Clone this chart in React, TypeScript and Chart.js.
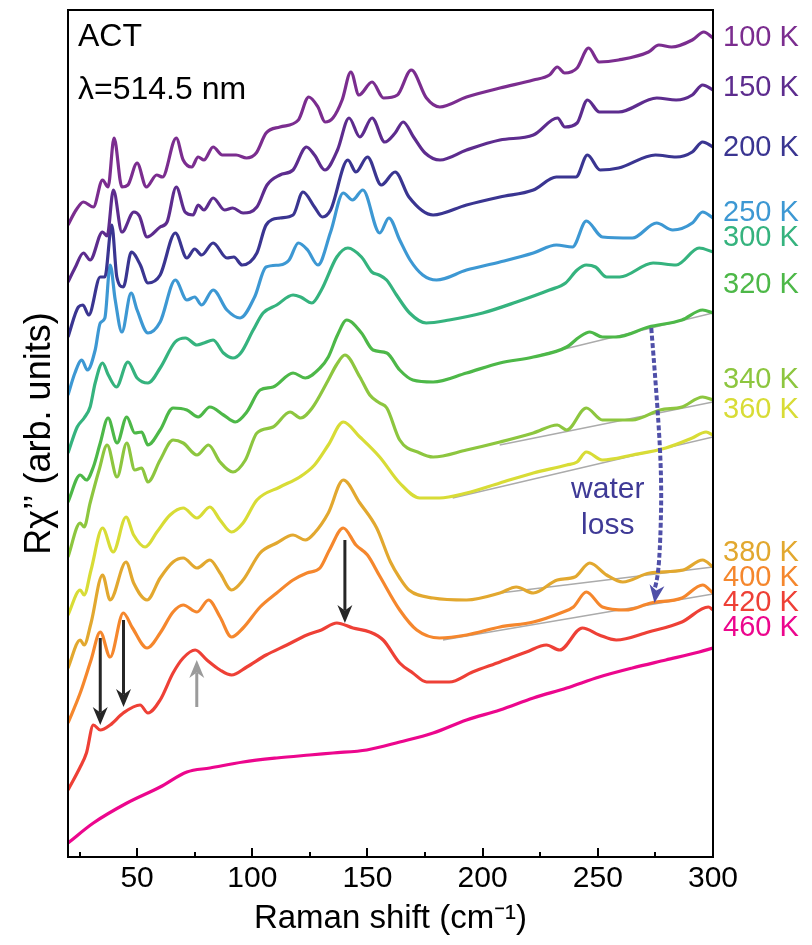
import React, { useEffect, useRef } from "react";
import { Chart, registerables } from "chart.js";

Chart.register(...registerables);

// ---- Data (Raman shift in cm^-1, intensity in arbitrary offset units) ----
const labels = ["100 K", "150 K", "200 K", "250 K", "300 K", "320 K", "340 K", "360 K", "380 K", "400 K", "420 K", "460 K"];
const colors = ["#7B2D8F", "#5D2C8E", "#3A3591", "#3D98D3", "#35B37E", "#4DB848", "#8DC63F", "#D8DC36", "#E2A82F", "#F5872D", "#EE4036", "#EC068D"];
const labelY = [819, 769, 709, 644, 619, 572, 477, 447, 304, 279, 254, 229];

const x100 = [20, 23.5, 26.7, 31, 35, 37.4, 40, 43.4, 46, 50, 54, 58.5, 61, 67, 70, 73.7, 76.5, 79, 83, 87, 93, 97.5, 101.7, 106, 112, 120, 124.5, 128.5, 131.6, 135, 139, 142.8, 146.3, 152, 157, 163, 169, 175.6, 181.4, 193, 207.5, 222, 229, 232.4, 235.6, 241, 246, 250.6, 259, 272, 276.5, 282, 291, 296, 300];
const y100 = [632, 647, 655, 650, 677, 670, 719, 670, 672, 694, 670, 682, 680, 719, 697, 690, 700, 697, 710, 702, 702, 699, 704, 724, 730, 737, 760, 750, 735, 739, 757, 785, 762, 775, 759, 762, 787, 759, 750, 760, 769, 777, 782, 790, 784, 789, 809, 795, 797, 805, 812, 810, 817, 825, 819];

const x150 = [20, 23, 26.7, 29.6, 35, 37, 39.7, 43.4, 48.6, 51, 54.3, 60, 63, 67, 70.8, 74.3, 76.5, 79, 83, 88, 91.5, 96, 102, 106.4, 112, 117.7, 123.5, 127, 131.5, 137, 142, 146.7, 152, 157.5, 162, 165.5, 170, 175, 181.5, 193, 207.5, 222, 232.5, 235.7, 241, 245.5, 250.7, 259, 275.6, 284, 291, 295.5, 300];
const y150 = [575, 589, 604, 597, 625, 621, 667, 625, 645, 641, 620, 630, 635, 670, 645, 642, 652, 647, 659, 647, 649, 644, 650, 672, 682, 687, 710, 702, 687, 707, 739, 720, 739, 715, 724, 735, 720, 704, 697, 707, 717, 722, 739, 730, 734, 757, 745, 745, 759, 757, 762, 772, 767];

const x200 = [20, 24.5, 26.5, 29, 34, 36, 39, 41.2, 44, 47.5, 51.4, 54.7, 60, 66.6, 71.6, 75, 78, 83, 89, 92, 95.6, 102, 106, 112, 117.7, 122, 127, 130.5, 134, 141.5, 145, 150, 156, 162, 168, 178.5, 193, 207.5, 222, 232, 240.5, 245.5, 251, 259, 275, 284, 291, 295.5, 300];
const y200 = [520, 550, 552, 542, 580, 580, 632, 580, 570, 605, 592, 574, 582, 624, 599, 608, 602, 614, 599, 600, 592, 604, 632, 639, 642, 665, 650, 640, 647, 697, 685, 700, 672, 685, 660, 642, 652, 660, 667, 680, 680, 702, 687, 689, 702, 700, 705, 715, 710];

const x250 = [20, 23, 26, 28.4, 31.8, 34, 36, 38.3, 40.5, 43.4, 47.4, 50, 54.7, 60, 66.6, 71.6, 75, 78, 83, 89, 94.7, 101, 106, 112, 116, 120, 124, 128.5, 134, 139.5, 143.5, 148, 155.3, 159.3, 164, 168.5, 174, 180, 193, 207.5, 222, 232, 239, 245, 252, 265, 275.5, 282.5, 291, 295.5, 300];
const y250 = [462, 484, 497, 487, 507, 534, 539, 592, 557, 525, 564, 547, 524, 535, 577, 557, 560, 552, 567, 547, 539, 560, 590, 592, 597, 614, 607, 592, 625, 664, 657, 667, 624, 639, 617, 597, 582, 577, 587, 595, 604, 612, 610, 636, 620, 619, 634, 627, 634, 645, 639];

const x300 = [20, 24, 27, 29.6, 31.8, 35, 37.5, 41, 46, 50, 54.7, 60, 66.5, 71, 76, 79, 83, 87.5, 91.6, 95, 100.4, 104.7, 110.6, 117.7, 121, 125.9, 130, 136.7, 141.5, 147.4, 151.9, 155, 158.3, 162.6, 168.3, 175.5, 185.5, 200, 214.7, 229, 236, 241, 245, 249, 253.8, 259.5, 274, 284, 294, 300];
const y300 = [404, 430, 439, 450, 474, 494, 482, 470, 495, 479, 474, 489, 515, 519, 512, 514, 517, 504, 499, 504, 527, 544, 552, 562, 560, 554, 567, 600, 609, 600, 585, 582, 577, 562, 544, 534, 537, 544, 555, 567, 574, 587, 592, 590, 580, 580, 594, 592, 609, 605];

const x320 = [20, 25.3, 28, 31, 34, 37.4, 41.3, 45.5, 49, 52, 54.7, 60, 65.6, 71.6, 76.5, 81.6, 87.5, 92.6, 97.6, 103.4, 109, 117.7, 123, 129.4, 133, 137, 141, 147.4, 152.4, 158.4, 164, 169.7, 178.5, 193, 207.5, 222, 236.5, 242, 246.5, 252, 258, 272, 286.5, 295.5, 300];
const y320 = [355, 382, 377, 390, 414, 439, 414, 440, 424, 425, 412, 427, 449, 447, 440, 450, 442, 435, 445, 467, 470, 484, 479, 489, 500, 522, 537, 524, 507, 504, 487, 477, 475, 484, 494, 500, 510, 520, 525, 520, 520, 530, 537, 547, 544];

const x340 = [20, 25.3, 27, 29.6, 33.5, 37, 41.3, 45.5, 49, 52, 54.7, 60, 65.6, 70, 76, 81, 86, 91.6, 97, 102, 109, 116.4, 121, 126, 133, 136.5, 140.2, 146.7, 151, 155.3, 158.4, 164, 172.7, 178.5, 193, 207.5, 222, 232.4, 236.5, 245, 252, 265, 277, 286.5, 295.5, 300];
const y340 = [300, 334, 330, 354, 387, 412, 380, 414, 387, 389, 375, 397, 417, 414, 402, 412, 395, 385, 397, 424, 430, 445, 439, 449, 477, 492, 502, 480, 462, 454, 449, 417, 404, 400, 407, 415, 424, 432, 427, 449, 437, 437, 447, 450, 460, 457];

const x360 = [20, 25.3, 27, 30, 35, 39.6, 45.2, 48.5, 53.5, 58.6, 64.3, 70, 76, 81.6, 86, 91, 96, 102, 112, 120.6, 127, 133, 139.5, 146.7, 155.3, 164, 172.7, 181.3, 193, 207.5, 222, 236.5, 241, 245, 252, 265, 279.5, 291, 297, 300];
const y360 = [242, 267, 262, 287, 329, 305, 340, 322, 310, 325, 342, 349, 339, 350, 337, 325, 334, 357, 370, 380, 392, 412, 435, 420, 400, 374, 359, 359, 364, 374, 384, 392, 395, 405, 397, 402, 409, 419, 425, 422];

const x380 = [20, 25.3, 27, 30, 35, 38.3, 45.2, 48.5, 54.3, 60, 65.6, 70, 76, 81.6, 86, 91, 96, 103.4, 110.6, 117.7, 123, 127, 133, 139.5, 146.7, 154, 160, 164, 168, 178.5, 193, 207.5, 214.6, 222, 232.4, 240, 246.5, 253.8, 260.8, 272.5, 287, 295.5, 300];
const y380 = [189, 217, 212, 234, 282, 257, 295, 274, 257, 279, 295, 299, 289, 297, 284, 267, 277, 304, 314, 322, 317, 324, 344, 377, 354, 329, 295, 279, 267, 259, 257, 264, 270, 264, 277, 280, 294, 282, 275, 284, 287, 297, 290];

const x400 = [20, 25.3, 30, 34, 38.3, 44, 48, 54.3, 60, 65.6, 70, 76, 81, 86, 91, 96, 103.4, 110.6, 117.7, 123.7, 129.4, 133.5, 139.5, 145, 150, 155.3, 164, 171.4, 181.3, 193, 207.5, 222, 233.8, 239.4, 245, 252, 262, 273, 286.5, 295.5, 300];
const y400 = [134, 164, 197, 225, 200, 244, 229, 209, 224, 245, 252, 245, 257, 240, 220, 229, 250, 264, 277, 284, 289, 307, 329, 312, 302, 281, 247, 227, 219, 222, 230, 235, 244, 250, 265, 250, 247, 254, 259, 272, 264];

const x420 = [20, 25.3, 28, 31, 34, 38.3, 44, 51.3, 54.7, 60, 65.6, 70, 75.2, 80.3, 86, 91, 97.6, 106, 115, 123.7, 130, 136.7, 143.7, 151, 156.8, 164, 169.7, 175.7, 185.5, 195.6, 207.5, 219, 227.7, 233.4, 243.3, 250.6, 258, 272, 286.5, 298, 300];
const y420 = [67, 90, 104, 132, 127, 132, 144, 152, 144, 157, 184, 199, 207, 197, 187, 182, 190, 202, 212, 222, 227, 234, 229, 225, 217, 194, 184, 175, 175, 185, 195, 205, 212, 207, 229, 222, 217, 225, 235, 250, 247];

const x460 = [20, 31, 45.6, 60, 71.6, 81.6, 96, 110.6, 124.9, 135, 149.7, 164, 178.5, 193, 207.5, 222, 236.5, 250.6, 265, 279.5, 294, 300];
const y460 = [14, 34, 54, 70, 85, 89, 95, 99, 102, 104, 107, 115, 124, 137, 147, 159, 169, 180, 189, 197, 205, 209];

// gray background lines (start / end)
const baseX = [[224.8, 300], [207.4, 300], [187, 300], [207.4, 300], [182.8, 300]];
const baseY = [[502, 544], [412, 455], [359, 420], [264, 290], [217, 263]];

// black down arrows (x, from, to) and grey up arrow
const arrowX = [34, 44.1, 140.2];
const arrowFrom = [219, 237, 317];
const arrowTo = [132, 150, 234];
const greyArrowX = 75.9;
const greyArrowFrom = 150;
const greyArrowTo = 197;

// "water loss" dashed arrow path
const waterX = [273.2, 276.0, 277.7, 277.2, 276.0, 274.6];
const waterY = [529, 450, 377, 317, 277, 254];
const waterTextX = 254.3;
const waterTextY = [367, 331];

const xTicksMajor = [50, 100, 150, 200, 250, 300];
const xTicksMinor = [25, 75, 125, 175, 225, 275];

const seriesX = [x100, x150, x200, x250, x300, x320, x340, x360, x380, x400, x420, x460];
const seriesY = [y100, y150, y200, y250, y300, y320, y340, y360, y380, y400, y420, y460];

const FONT = "'Liberation Sans', Arial, Helvetica, sans-serif";

function drawArrow(ctx: CanvasRenderingContext2D, x0: number, y0: number, x1: number, y1: number, color: string, head = 18, w = 15, lw = 3) {
  const ang = Math.atan2(y1 - y0, x1 - x0);
  const c = Math.cos(ang), s = Math.sin(ang);
  ctx.save();
  ctx.strokeStyle = color;
  ctx.fillStyle = color;
  ctx.lineWidth = lw;
  ctx.setLineDash([]);
  ctx.beginPath();
  ctx.moveTo(x0, y0);
  ctx.lineTo(x1 - head * 0.7 * c, y1 - head * 0.7 * s);
  ctx.stroke();
  ctx.beginPath();
  ctx.moveTo(x1, y1);
  ctx.lineTo(x1 - head * c + (w / 2) * s, y1 - head * s - (w / 2) * c);
  ctx.lineTo(x1 - head * 0.7 * c, y1 - head * 0.7 * s);
  ctx.lineTo(x1 - head * c - (w / 2) * s, y1 - head * s + (w / 2) * c);
  ctx.closePath();
  ctx.fill();
  ctx.restore();
}

const overlayPlugin = {
  id: "overlay",
  afterDatasetsDraw(chart: any) {
    const { ctx, chartArea, scales } = chart;
    const xs = scales.x, ys = scales.y;
    // black arrows
    arrowX.forEach((xv, i) => {
      const px = xs.getPixelForValue(xv);
      drawArrow(ctx, px, ys.getPixelForValue(arrowFrom[i]), px, ys.getPixelForValue(arrowTo[i]), "#262626");
    });
    const gx = xs.getPixelForValue(greyArrowX);
    drawArrow(ctx, gx, ys.getPixelForValue(greyArrowFrom), gx, ys.getPixelForValue(greyArrowTo), "#9B9B9B");

    // water loss dashed arrow
    const pts = waterX.map((xv, i) => [xs.getPixelForValue(xv), ys.getPixelForValue(waterY[i])]);
    ctx.save();
    ctx.strokeStyle = "#4F4FA8";
    ctx.lineWidth = 4;
    ctx.setLineDash([5, 2.5]);
    ctx.beginPath();
    ctx.moveTo(pts[0][0], pts[0][1]);
    for (let i = 1; i < pts.length - 2; i++) {
      const mx = (pts[i][0] + pts[i + 1][0]) / 2;
      const my = (pts[i][1] + pts[i + 1][1]) / 2;
      ctx.quadraticCurveTo(pts[i][0], pts[i][1], mx, my);
    }
    const n = pts.length;
    ctx.quadraticCurveTo(pts[n - 2][0], pts[n - 2][1], pts[n - 1][0], pts[n - 1][1] - 14);
    ctx.stroke();
    ctx.restore();
    drawArrow(ctx, pts[n - 2][0], pts[n - 2][1], pts[n - 1][0], pts[n - 1][1], "#4F4FA8", 18, 15, 0.1);

    // texts inside plot
    ctx.save();
    ctx.fillStyle = "#3F3A96";
    ctx.font = `30px ${FONT}`;
    ctx.textAlign = "center";
    ctx.textBaseline = "middle";
    ctx.fillText("water", xs.getPixelForValue(waterTextX), ys.getPixelForValue(waterTextY[0]));
    ctx.fillText("loss", xs.getPixelForValue(waterTextX), ys.getPixelForValue(waterTextY[1]));
    ctx.fillStyle = "#000";
    ctx.textAlign = "left";
    ctx.font = `32px ${FONT}`;
    ctx.fillText("ACT", chartArea.left + 10, chartArea.top + 27);
    ctx.fillText("λ=514.5 nm", chartArea.left + 10, chartArea.top + 80);
    ctx.restore();

    // right-hand temperature labels
    ctx.save();
    ctx.font = `29px ${FONT}`;
    ctx.textAlign = "left";
    ctx.textBaseline = "middle";
    labels.forEach((t, i) => {
      ctx.fillStyle = colors[i];
      ctx.fillText(t, chartArea.right + 10, ys.getPixelForValue(labelY[i]));
    });
    ctx.restore();
  },
  afterDraw(chart: any) {
    const { ctx, chartArea, scales } = chart;
    const xs = scales.x;
    ctx.save();
    ctx.strokeStyle = "#000";
    ctx.lineWidth = 2;
    ctx.setLineDash([]);
    ctx.strokeRect(chartArea.left, chartArea.top, chartArea.right - chartArea.left, chartArea.bottom - chartArea.top);
    ctx.lineWidth = 2;
    ctx.beginPath();
    xTicksMajor.forEach((v) => {
      const px = Math.round(xs.getPixelForValue(v));
      ctx.moveTo(px, chartArea.bottom);
      ctx.lineTo(px, chartArea.bottom - 9);
    });
    xTicksMinor.forEach((v) => {
      const px = Math.round(xs.getPixelForValue(v));
      ctx.moveTo(px, chartArea.bottom);
      ctx.lineTo(px, chartArea.bottom - 5);
    });
    ctx.stroke();
    ctx.restore();
  },
};

export default function App() {
  const ref = useRef<HTMLCanvasElement | null>(null);

  useEffect(() => {
    if (!ref.current) return;
    const datasets: any[] = [];
    seriesX.forEach((xsArr, i) => {
      datasets.push({
        label: labels[i],
        data: xsArr.map((xv, j) => ({ x: xv, y: seriesY[i][j] })),
        borderColor: colors[i],
        backgroundColor: colors[i],
        borderWidth: 3.2,
        pointRadius: 0,
        cubicInterpolationMode: "monotone",
        fill: false,
        order: 1,
      });
    });
    baseX.forEach((bx, i) => {
      datasets.push({
        label: "baseline " + i,
        data: bx.map((xv, j) => ({ x: xv, y: baseY[i][j] })),
        borderColor: "#ABABAB",
        borderWidth: 1.3,
        pointRadius: 0,
        fill: false,
        order: 2,
      });
    });

    const chart = new Chart(ref.current, {
      type: "line",
      data: { datasets },
      options: {
        animation: false,
        responsive: false,
        devicePixelRatio: 1,
        layout: { padding: { left: 0, right: 99, top: 10, bottom: 0 } },
        plugins: { legend: { display: false }, tooltip: { enabled: false } },
        scales: {
          x: {
            type: "linear",
            min: 20,
            max: 300,
            afterFit: (s: any) => { s.height = 88; },
            grid: { display: false, drawTicks: false },
            border: { display: false },
            afterBuildTicks: (s: any) => { s.ticks = xTicksMajor.map((v) => ({ value: v })); },
            ticks: { color: "#000", font: { size: 30, family: FONT }, padding: 4, maxRotation: 0 },
            title: { display: true, text: "Raman shift (cm⁻¹)", color: "#000", font: { size: 33, family: FONT }, padding: { top: 0, bottom: 6 } },
          },
          y: {
            type: "linear",
            min: 0,
            max: 847,
            afterFit: (s: any) => { s.width = 68; },
            grid: { display: false, drawTicks: false },
            border: { display: false },
            ticks: { display: false },
            title: { display: true, text: "Rχ’’ (arb. units)", color: "#000", font: { size: 36, family: FONT }, padding: { top: 18, bottom: 0 } },
          },
        },
      },
      plugins: [overlayPlugin],
    } as any);
    return () => chart.destroy();
  }, []);

  return (
    <div style={{ position: "absolute", left: 0, top: 0, width: 812, height: 945, background: "#fff" }}>
      <canvas ref={ref} width={812} height={945} style={{ width: 812, height: 945, display: "block" }} />
    </div>
  );
}
